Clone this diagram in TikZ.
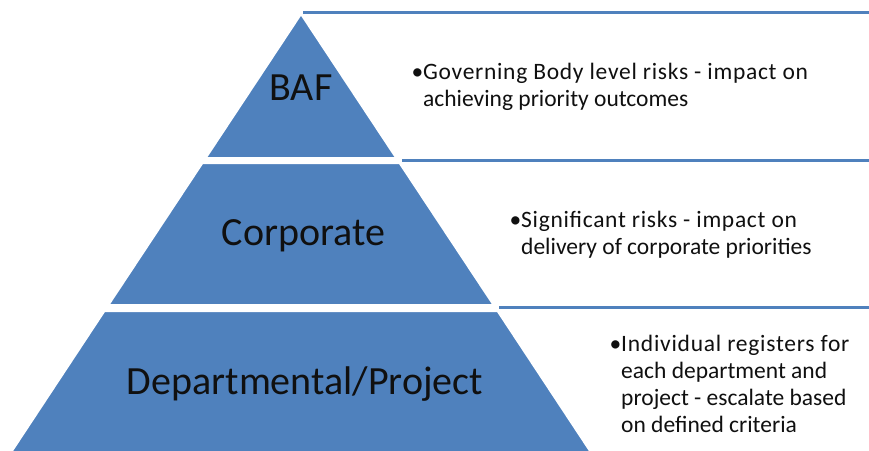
\documentclass[tikz,border=0pt]{standalone}
\usepackage{fontspec}
\setmainfont{Carlito}
\definecolor{ofblue}{HTML}{4F81BD}
\definecolor{txt}{HTML}{101010}
\begin{document}
\begin{tikzpicture}[x=1pt,y=-1pt,
  seg/.style={fill=ofblue,draw=white,line width=2pt,line join=miter},
  boxline/.style={draw=ofblue,line width=3.2pt},
  lvl/.style={font=\fontsize{40}{46}\selectfont,text=txt,inner sep=0pt},
  desc/.style={font=\fontsize{23.5}{27}\selectfont,text=txt,align=left,anchor=west,inner sep=0pt}]
\useasboundingbox (0,0) rectangle (869,450);
\clip (0,0) rectangle (869,450);
\fill[white] (0,0) rectangle (869,450);
% box top lines
\draw[boxline] (303,12.5) -- (869,12.5);
\draw[boxline] (402,160.5) -- (869,160.5);
\draw[boxline] (499,307.8) -- (869,307.8);
% pyramid segments
\coordinate (apex) at (301,14);
\path[seg] (apex) -- (205.7,158) -- (396.3,158) -- cycle;
\path[seg] (202.4,163) -- (399.6,163) -- (493.6,305) -- (108.4,305) -- cycle;
\path[seg] (104.4,311) -- (497.6,311) -- (596,460) -- (6,460) -- cycle;
% labels
\node[lvl] (baf) at (301,88) {BAF};
\node[lvl] (corp) at (303.5,236) {Corporate};
\node[lvl] (dept) at (305,384) {Departmental/Project};
% descriptions
\node[desc] (d1) at (423,87) {\addfontfeature{LetterSpace=3.0}\llap{•}Governing Body level risks - impact on\\achieving priority outcomes};
\node[desc] (d2) at (521,235) {\addfontfeature{LetterSpace=3.0}\llap{•}Significant risks - impact on\\delivery of corporate priorities};
\node[desc] (d3) at (621,384) {\addfontfeature{LetterSpace=3.2}\llap{•}Individual registers for\\each department and\\project - escalate based\\on defined criteria};
\end{tikzpicture}
\end{document}
